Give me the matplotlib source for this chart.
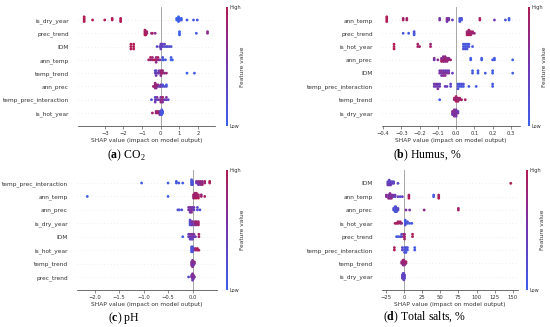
import numpy as np
import matplotlib
matplotlib.use('Agg')
import matplotlib.pyplot as plt
from matplotlib.colors import LinearSegmentedColormap

plt.rcParams['mathtext.fontset'] = 'custom'
plt.rcParams['mathtext.rm'] = 'Liberation Serif'
plt.rcParams['mathtext.bf'] = 'Liberation Serif:bold'

# ---- (a) CO2 ----
co2_features = ['is_dry_year', 'prec_trend', 'IDM', 'ann_temp', 'temp_trend',
                'ann_prec', 'temp_prec_interaction', 'is_hot_year']
co2_shap = [
    [-4.1, -4.1, -4.1, -4.1, -3.65, -3.0, -2.6, -2.6, -2.15, -2.15, -2.15,
     0.85, 0.85, 0.9, 0.9, 0.95, 0.95, 1.0, 1.0, 1.05, 1.1, 1.1, 1.4, 1.75, 1.95],
    [-0.85, -0.85, -0.85, -0.85, -0.8, -0.8, -0.8, -0.75, -0.75, -0.5, -0.45, -0.3,
     1.0, 1.0, 1.0, 1.9, 2.5, 2.5],
    [-1.6, -1.6, -1.6, -1.45, -1.45, -1.45, -0.2, -0.05, 0.0, 0.0, 0.0, 0.05, 0.05,
     0.1, 0.1, 0.2, 0.2, 0.3, 0.35, 0.45, 0.55],
    [-0.65, -0.55, -0.55, -0.45, -0.45, -0.35, -0.25, -0.25, -0.25, -0.15, -0.15,
     -0.05, 0.1, 0.1, 0.15, 0.25, 0.55, 0.55, 0.62],
    [-0.3, -0.3, -0.25, -0.25, -0.25, -0.15, -0.1, -0.1, 0.0, 0.0, 0.0, 0.05, 0.05,
     0.1, 0.1, 0.2, 0.3, 1.4, 1.8],
    [-0.4, -0.3, -0.3, -0.3, -0.3, -0.25, -0.25, -0.25, -0.15, -0.15, -0.05, 0.0, 0.0,
     0.1, 0.1, 0.2, 0.3, 0.3],
    [-0.5, -0.3, -0.3, -0.3, -0.2, -0.2, -0.1, 0.0, 0.0, 0.0, 0.1, 0.1, 0.1, 0.2,
     0.3, 0.3, 0.4],
    [-0.45, -0.25, -0.25, -0.15, -0.15, -0.05, -0.05, -0.05, 0.0, 0.0, 0.0, 0.05,
     0.05, 0.05, 0.05, 0.1, 0.1],
]
co2_level = [
    [1, 1, 1, 1, 1, 1, 1, 1, 1, 1, 1, 0, 0, 0, 0, 0, 0, 0, 0, 0.1, 0.1, 0, 0.1, 0.1, 0.1],
    [1, 1, 1, 0.9, 0.9, 0.9, 1, 0.9, 0.9, 0.8, 0.9, 0.7, 0, 0, 0, 0.1, 0.7, 0.7],
    [1, 1, 1, 1, 1, 1, 0.3, 0.4, 0.3, 0.5, 0.4, 0.3, 0.5, 0.4, 0.3, 0.2, 0.4, 0.3,
     0.2, 0.3, 0.2],
    [0.9, 0.8, 1, 0.9, 0.8, 1, 0.9, 0.8, 0.7, 0.8, 0.9, 0.6, 0.1, 0.2, 0.1, 0.1, 0, 0.1, 0],
    [0.4, 0.3, 0.4, 0.3, 0.5, 0.6, 0.4, 0.5, 0.8, 0.9, 0.7, 0.9, 0.8, 0.9, 0.8, 0.7,
     0.8, 0, 0.1],
    [0.8, 0.9, 0.8, 0.7, 0.8, 0.9, 0.8, 0.7, 0.6, 0.7, 0.5, 0.4, 0.5, 0.3, 0.2, 0.2,
     0.2, 0.1],
    [0.2, 0.4, 0.3, 0.5, 0.4, 0.6, 0.5, 0.7, 0.6, 0.8, 0.7, 0.9, 0.6, 0.5, 0.4, 0.6, 0.3],
    [0.9, 0.9, 0.8, 0.8, 0.9, 0.7, 0.6, 0.7, 0.3, 0.2, 0.3, 0.1, 0.2, 0.1, 0.2, 0.1, 0.1],
]

# ---- (b) Humus, % ----
humus_features = ['ann_temp', 'prec_trend', 'is_hot_year', 'ann_prec', 'IDM',
                  'temp_prec_interaction', 'temp_trend', 'is_dry_year']
humus_shap = [
    [-0.38, -0.38, -0.38, -0.38, -0.29, -0.29, -0.27, -0.27, -0.09, -0.09, -0.05,
     -0.05, -0.05, -0.04, -0.04, -0.02, 0.02, 0.02, 0.02, 0.03, 0.03, 0.13, 0.13,
     0.21, 0.27, 0.29, 0.29],
    [-0.29, -0.26, -0.23, -0.23, -0.23, 0.06, 0.06, 0.06, 0.07, 0.07, 0.07, 0.07,
     0.08, 0.08, 0.08, 0.09, 0.09, 0.1],
    [-0.34, -0.34, -0.34, -0.21, -0.21, -0.2, -0.14, -0.14, 0.04, 0.04, 0.04, 0.05,
     0.05, 0.05, 0.06, 0.06, 0.06, 0.07, 0.07, 0.09],
    [-0.12, -0.12, -0.1, -0.08, -0.08, -0.08, -0.07, -0.07, -0.07, -0.07, -0.06,
     -0.06, -0.06, -0.06, -0.05, -0.05, -0.05, -0.04, -0.04, -0.03, 0.08, 0.08,
     0.14, 0.14, 0.2, 0.21, 0.21, 0.31],
    [-0.09, -0.09, -0.08, -0.08, -0.08, -0.07, -0.07, -0.07, -0.06, -0.06, -0.06,
     -0.05, -0.05, -0.04, -0.04, -0.02, 0.09, 0.09, 0.12, 0.12, 0.16, 0.2, 0.2, 0.31],
    [-0.12, -0.12, -0.11, -0.11, -0.1, -0.1, -0.1, -0.09, -0.09, -0.06, -0.05, -0.03,
     -0.03, 0.01, 0.01, 0.01, 0.02, 0.02, 0.03, 0.03, 0.04, 0.04, 0.07, 0.11, 0.2, 0.2],
    [-0.09, -0.01, -0.01, 0.0, 0.0, 0.0, 0.0, 0.01, 0.01, 0.01, 0.02, 0.02, 0.03, 0.05],
    [-0.02, -0.02, -0.02, -0.01, -0.01, -0.01, -0.01, -0.01, 0.0, 0.0, 0.0, 0.0, 0.0,
     0.01, 0.01],
]
humus_level = [
    [1, 1, 1, 1, 0.9, 0.9, 0.9, 0.9, 0.6, 0.5, 0.6, 0.7, 0.5, 0.6, 0.5, 0.4, 0.1, 0.1,
     0.2, 0.1, 0.2, 0.9, 0.9, 0.5, 0.2, 0, 0.1],
    [0.1, 0.1, 0.1, 0.2, 0.1, 0.9, 0.8, 0.9, 0.9, 0.8, 1, 0.9, 0.8, 0.9, 0.9, 0.8,
     0.9, 0.8],
    [1, 1, 1, 0.9, 0.9, 0.9, 0.9, 0.8, 0.1, 0.1, 0.2, 0.1, 0.1, 0.2, 0.1, 0.1, 0.1,
     0.2, 0.1, 0.1],
    [0.5, 0.6, 0.7, 0.8, 0.7, 0.9, 0.8, 0.7, 0.9, 0.6, 0.8, 0.9, 0.7, 0.8, 0.9, 0.7,
     0.8, 0.9, 0.7, 0.8, 0.1, 0.05, 0.05, 0.1, 0.1, 0.05, 0.1, 0.05],
    [0.6, 0.5, 0.6, 0.7, 0.5, 0.6, 0.5, 0.7, 0.6, 0.5, 0.7, 0.6, 0.5, 0.6, 0.5, 0.4,
     0.1, 0.05, 0.05, 0.1, 0.1, 0.05, 0.1, 0.05],
    [0.5, 0.4, 0.5, 0.6, 0.4, 0.5, 0.6, 0.5, 0.4, 0.5, 0.4, 0.3, 0.4, 0.2, 0.1, 0.2,
     0.1, 0.2, 0.1, 0.2, 0.1, 0.2, 0.1, 0.1, 0.1, 0.1],
    [0.1, 0.8, 0.9, 0.9, 0.8, 1, 0.9, 0.9, 0.8, 0.9, 0.8, 0.9, 0.9, 0.9],
    [0.6, 0.7, 0.5, 0.6, 0.7, 0.5, 0.6, 0.7, 0.5, 0.6, 0.7, 0.6, 0.5, 0.6, 0.4],
]

# ---- (c) pH ----
ph_features = ['temp_prec_interaction', 'ann_temp', 'ann_prec', 'is_dry_year', 'IDM',
               'is_hot_year', 'temp_trend', 'prec_trend']
ph_shap = [
    [-1.04, -0.5, -0.33, -0.33, -0.28, -0.2, -0.02, -0.02, -0.02, -0.02, 0.0, 0.0,
     0.0, 0.08, 0.08, 0.12, 0.12, 0.12, 0.16, 0.16, 0.16, 0.2, 0.2, 0.2, 0.25, 0.25,
     0.35, 0.35],
    [-2.15, -0.5, 0.02, 0.02, 0.02, 0.05, 0.05, 0.05, 0.05, 0.08, 0.08, 0.08, 0.08,
     0.12, 0.12, 0.12, 0.18, 0.18, 0.25],
    [-0.3, -0.27, -0.22, -0.08, -0.08, -0.05, -0.05, -0.05, -0.02, -0.02, -0.02, 0.0,
     0.0, 0.03, 0.03, 0.1, 0.1, 0.15],
    [-0.05, -0.05, -0.05, -0.05, -0.02, -0.02, -0.02, 0.0, 0.0, 0.0, 0.05, 0.05, 0.05,
     0.08, 0.08, 0.08, 0.12, 0.12, 0.12],
    [-0.2, -0.08, -0.08, -0.05, -0.05, -0.05, -0.02, -0.02, -0.02, 0.0, 0.0, 0.0,
     0.03, 0.03, 0.06, 0.13, 0.13],
    [-0.02, -0.02, -0.02, -0.02, 0.0, 0.0, 0.0, 0.0, 0.02, 0.02, 0.06, 0.06, 0.1,
     0.1, 0.13],
    [-0.02, -0.02, -0.02, 0.0, 0.0, 0.0, 0.0, 0.0, 0.02, 0.02, 0.02, 0.04, 0.04],
    [-0.08, -0.02, -0.02, 0.0, 0.0, 0.0, 0.0, 0.0, 0.02, 0.02, 0.02, 0.04],
]
ph_level = [
    [0.05, 0.05, 0.1, 0.05, 0.1, 0.1, 0.15, 0.1, 0.2, 0.15, 0.1, 0.2, 0.15, 0.5,
     0.6, 0.6, 0.7, 0.5, 0.7, 0.8, 0.6, 0.8, 0.7, 0.9, 0.8, 0.9, 0.9, 1],
    [0.05, 0.05, 0.8, 0.9, 0.7, 0.8, 0.9, 1, 0.8, 0.9, 0.8, 1, 0.9, 0.8, 0.9, 1,
     0.9, 0.8, 0.9],
    [0.2, 0.2, 0.2, 0.6, 0.5, 0.6, 0.7, 0.5, 0.6, 0.5, 0.7, 0.6, 0.5, 0.4, 0.5,
     0.2, 0.3, 0.2],
    [0.2, 0.3, 0.2, 0.3, 0.4, 0.5, 0.4, 0.5, 0.6, 0.5, 0.7, 0.8, 0.7, 0.8, 0.9, 0.7,
     0.9, 0.8, 0.9],
    [0.1, 0.5, 0.4, 0.5, 0.6, 0.4, 0.5, 0.6, 0.4, 0.5, 0.6, 0.4, 0.5, 0.6, 0.5, 0.9,
     0.9],
    [0.1, 0.2, 0.1, 0.2, 0.1, 0.2, 0.1, 0.2, 0.3, 0.2, 0.9, 0.8, 0.9, 1, 0.9],
    [0.6, 0.5, 0.7, 0.6, 0.7, 0.5, 0.6, 0.7, 0.6, 0.7, 0.5, 0.6, 0.7],
    [0.3, 0.5, 0.6, 0.6, 0.5, 0.7, 0.6, 0.5, 0.6, 0.7, 0.5, 0.6],
]

# ---- (d) Total salts, % ----
salts_features = ['IDM', 'ann_temp', 'ann_prec', 'is_hot_year', 'prec_trend',
                  'temp_prec_interaction', 'temp_trend', 'is_dry_year']
salts_shap = [
    [-22, -22, -22, -20, -20, -20, -20, -18, -18, -18, -16, -16, -14, -14, -8, 147],
    [-24, -24, -21, -21, -21, -19, -19, -19, -19, -17, -17, -17, -15, -15, -12, -12,
     -8, -5, -2, 7, 7, 7, 41, 41, 48, 48, 48],
    [-14, -14, -12, -12, -12, -12, -11, -11, -11, -11, -10, -10, -10, -8, -8, 3, 8,
     28, 75, 75],
    [-12, -10, -8, -8, -5, -5, -3, 2, 2, 2, 2, 5, 5, 8, 11],
    [-10, -8, -5, -3, -3, 0, 0, 1, 1, 1, 12, 12],
    [-13, -13, -2, -2, 1, 1, 1, 3, 3, 3, 5, 5, 15, 15],
    [-3, -3, -1, -1, -1, -1, 0, 0, 0, 0, 1, 1, 1, 3, 3],
    [-2, -2, -2, -1, -1, -1, -1, 0, 0, 0, 0, 0, 1, 1, 1],
]
salts_level = [
    [0.4, 0.3, 0.5, 0.4, 0.3, 0.5, 0.4, 0.3, 0.4, 0.5, 0.4, 0.3, 0.4, 0.3, 0.3, 1],
    [0.6, 0.7, 0.5, 0.6, 0.8, 0.7, 0.5, 0.6, 0.7, 0.5, 0.6, 0.8, 0.5, 0.6, 0.4, 0.5,
     0.4, 0.3, 0.4, 0.9, 0.9, 1, 0.1, 0.1, 0.9, 0.9, 1],
    [0.2, 0.3, 0.1, 0.2, 0.15, 0.2, 0.1, 0.2, 0.15, 0.2, 0.1, 0.2, 0.15, 0.3, 0.3,
     0.6, 0.6, 0.7, 0.9, 0.9],
    [0.9, 0.9, 1, 0.9, 0.8, 0.9, 0.7, 0.1, 0.1, 0.2, 0.1, 0.1, 0.2, 0.1, 0.1],
    [0.1, 0.1, 0.2, 0.2, 0.3, 0.8, 0.9, 0.9, 0.8, 0.9, 0.9, 1],
    [1, 0.9, 0.3, 0.3, 0.2, 0.1, 0.2, 0.1, 0.2, 0.1, 0.1, 0.2, 0.1, 0.1],
    [0.8, 0.7, 0.9, 0.8, 0.7, 0.9, 0.8, 0.9, 0.7, 0.8, 0.9, 0.8, 0.7, 0.8, 0.9],
    [0.3, 0.4, 0.3, 0.4, 0.3, 0.4, 0.3, 0.4, 0.3, 0.4, 0.3, 0.4, 0.3, 0.4, 0.3],
]

W, H = 550, 327
fig = plt.figure(figsize=(5.5, 3.27), dpi=100)
cmap = LinearSegmentedColormap.from_list('shap_like', ['#3b60ea', '#7038b0', '#b11a52'])


def rect(x0, y0, x1, y1):
    # pixel box (top-left origin) -> figure fraction
    return [x0 / W, 1 - y1 / H, (x1 - x0) / W, (y1 - y0) / H]


def swarm_offsets(vals, row_height=0.4):
    # same stacking idea as the shap beeswarm: bin values, pile points up/down
    vals = np.asarray(vals, float)
    q = np.round(100 * (vals - vals.min()) / (vals.max() - vals.min() + 1e-8))
    order = np.argsort(q, kind='stable')
    ys = np.zeros(len(vals))
    layer, last = 0, -1
    for i in order:
        if q[i] != last:
            layer = 0
        ys[i] = np.ceil(layer / 2) * ((layer % 2) * 2 - 1)
        layer += 1
        last = q[i]
    ys *= 0.9 * (row_height / np.max(ys + 1))
    return ys


def panel(box, cbox, features, shap, level, xlim, xticks, caption, cap_xy, fv_x):
    ax = fig.add_axes(rect(*box))
    n = len(features)
    for i, (vals, lev) in enumerate(zip(shap, level)):
        pos = n - 1 - i
        ax.axhline(pos, color='#cccccc', lw=0.4, dashes=(1, 5), zorder=-1)
        ax.scatter(vals, pos + swarm_offsets(vals), c=lev, cmap=cmap, vmin=0, vmax=1,
                   s=4, linewidths=0, zorder=3)
    ax.axvline(0, color='#999999', lw=0.6, zorder=-1)
    ax.set_ylim(-1, n)
    ax.set_xlim(*xlim)
    ax.set_yticks(range(n))
    ax.set_yticklabels(features[::-1], fontsize=4.2, color='#333333')
    ax.set_xticks(xticks)
    ax.tick_params(axis='x', labelsize=3.8, length=2, width=0.4, pad=1.5,
                   colors='#333333')
    ax.tick_params(axis='y', length=0, pad=6.5)
    for s in ['top', 'right', 'left']:
        ax.spines[s].set_visible(False)
    ax.spines['bottom'].set_linewidth(0.5)
    ax.spines['bottom'].set_color('#333333')
    ax.set_xlabel('SHAP value (impact on model output)', fontsize=4.2,
                  color='#333333', labelpad=1.5)

    cax = fig.add_axes(rect(*cbox))
    cb = fig.colorbar(plt.cm.ScalarMappable(cmap=cmap), cax=cax)
    cb.set_ticks([0, 1])
    cb.set_ticklabels(['Low', 'High'])
    cb.outline.set_visible(False)
    cax.tick_params(labelsize=3.6, length=0, pad=1, colors='#333333')
    ymid = (cbox[1] + cbox[3]) / 2
    fig.text(fv_x / W, 1 - ymid / H, 'Feature value', rotation=90, fontsize=4.2,
             color='#333333', ha='center', va='center')

    fig.text(cap_xy[0] / W, 1 - cap_xy[1] / H, caption, ha='center', va='center',
             fontsize=8.5, family='Liberation Serif')


panel((78, 6.7, 215, 126.3), (226, 7, 228, 126), co2_features, co2_shap, co2_level,
      (-4.43, 2.9), [-3, -2, -1, 0, 1, 2], r'($\mathbf{a}$) CO$_2$', (126, 155), 243)
panel((382, 6.7, 520, 126.3), (528, 7, 530, 126), humus_features, humus_shap,
      humus_level, (-0.406, 0.35), [-0.4, -0.3, -0.2, -0.1, 0.0, 0.1, 0.2, 0.3],
      r'($\mathbf{b}$) Humus, %', (427, 155), 545)
panel((77, 169.6, 217, 290.4), (226, 170, 228, 290), ph_features, ph_shap, ph_level,
      (-2.36, 0.5), [-2.0, -1.5, -1.0, -0.5, 0.0], r'($\mathbf{c}$) pH', (124, 318), 243)
panel((382, 170, 518, 290), (526, 170, 528, 290), salts_features, salts_shap,
      salts_level, (-30, 157), [-25, 0, 25, 50, 75, 100, 125, 150],
      r'($\mathbf{d}$) Total salts, %', (425, 317), 542)

fig.savefig('out.png', dpi=100)
